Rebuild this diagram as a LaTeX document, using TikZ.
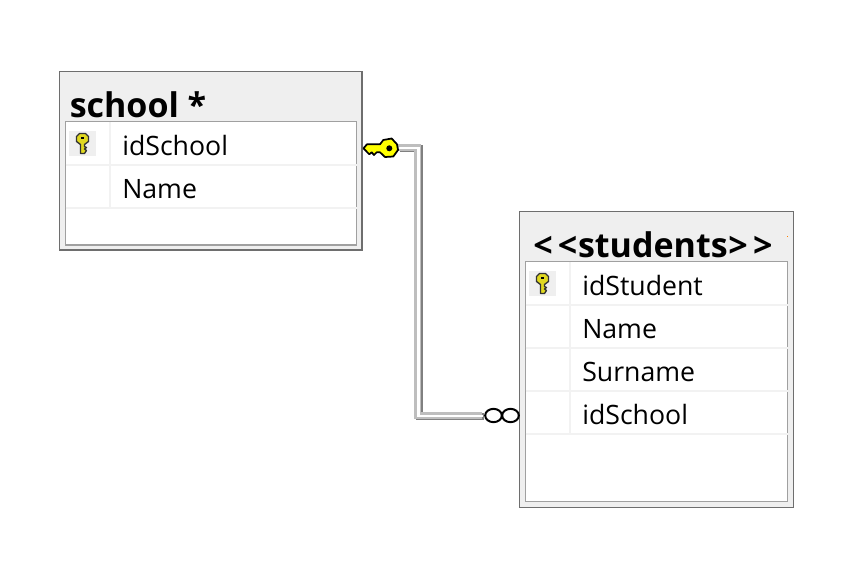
\documentclass[tikz,border=0pt]{standalone}
\usepackage{fontspec}
\setmainfont{Open Sans}
\usepackage{xcolor}
\usetikzlibrary{shapes.geometric}
\definecolor{tableedge}{HTML}{6E6E6E}
\definecolor{tablefill}{HTML}{EFEFEF}
\definecolor{gridedge}{HTML}{A0A0A0}
\definecolor{rowline}{HTML}{F2F2F2}
\definecolor{keyyellow}{HTML}{FFFF00}
\definecolor{keyicon}{HTML}{E0D820}
\definecolor{linkdark}{HTML}{808080}
\definecolor{linklight}{HTML}{BEBEBE}

\tikzset{
  pics/rowkey/.style={code={
    \fill[tablefill] (-13.5,-12.5) rectangle (13.5,12.5);
    \draw[black!80, fill=keyicon, line width=1pt, line join=round]
      (-2,1) -- (-6,-2) -- (-6,-7) -- (-3,-10) -- (3,-10) -- (6,-7) -- (6,-2) -- (2,1)
      -- (2,3) -- (4,4) -- (2,5.5) -- (4,7) -- (2,10) -- (-2,10) -- cycle;
    \fill[black] (-1.2,-6.5) rectangle (1.2,-4.5);
  }}
}

\begin{document}
\begin{tikzpicture}[x=0.75pt, y=-0.75pt,
      outerbox/.style={draw=tableedge, fill=tablefill, line width=0.9pt, anchor=north west, inner sep=0pt, outer sep=0pt},
      innerbox/.style={draw=gridedge, fill=white, line width=1pt, anchor=north west, inner sep=0pt, outer sep=0pt},
      rowrule/.style={draw=rowline, line width=0.8pt},
      title/.style={anchor=base west, inner sep=0pt, font=\fontsize{25.5}{25.5}\selectfont\bfseries},
      field/.style={anchor=base west, inner sep=0pt, font=\fontsize{20}{20}\selectfont},
      loop/.style={draw=black, fill=white, ellipse, line width=1.5pt, inner sep=0pt,
                   minimum width=12.5pt, minimum height=10pt},
      linkband/.style={line width=5.2pt, line join=miter}
    ]
    \useasboundingbox (0,0) rectangle (858,572);
    \fill[white] (0,0) rectangle (858,572);

    % school table
    \node[outerbox, minimum width=226.7pt, minimum height=133.7pt] (school) at (59.7,71.7) {};
    \node[innerbox, minimum width=218.25pt, minimum height=92.5pt] (schoolgrid) at (65.7,121.7) {};
    \node[title] (schooltitle) at (69.5,117) {school *};
    \foreach \y in {165,208}
      \draw[rowrule] (schoolgrid.west |- 0,\y) -- (schoolgrid.east |- 0,\y);
    \draw[rowrule] (110,122) -- (110,208);
    \pic at (82.5,143.5) {rowkey};
    \node[field] (schoolid) at (122,155) {idSchool};
    \node[field] (schoolname) at (122,198) {Name};

    % students table
    \node[outerbox, minimum width=205.2pt, minimum height=221.85pt] (students) at (519.7,211.5) {};
    \node[innerbox, minimum width=196.35pt, minimum height=179.85pt] (studentsgrid) at (525.7,261.7) {};
    \node[title] (studentstitle) at (533,257) {<\kern4pt<\kern0.5pt students\kern0.5pt>\kern4pt>};
    \foreach \y in {305,348,391,434}
      \draw[rowrule] (studentsgrid.west |- 0,\y) -- (studentsgrid.east |- 0,\y);
    \draw[rowrule] (570,262) -- (570,434);
    \pic at (542.5,283.5) {rowkey};
    \node[field] (studentid) at (582,295) {idStudent};
    \node[field] (studentname) at (582,338) {Name};
    \node[field] (studentsurname) at (582,381) {Surname};
    \node[field] (studentschool) at (582,424) {idSchool};
    \fill[orange] (786.5,235.5) rectangle (787.5,237);

    % relationship line
    \coordinate (keyend) at (399,148);
    \coordinate (bend) at (418.5,416);
    \node[loop] (loopright) at (510.5,415.5) {};
    \node[loop] (loopleft) at (493.5,415.5) {};
    \coordinate (loopend) at (483,416);
    \draw[linkband, linkdark, transform canvas={xshift=0.4pt, yshift=-0.4pt}] (keyend) -| (bend) |- (loopend);
    \draw[linkband, linklight, transform canvas={xshift=-0.6pt, yshift=0.6pt}] (keyend) -| (bend) |- (loopend);
    \draw[white, line width=1.6pt, line join=miter] (keyend) -| (bend) |- (loopend);

    % key end
    \draw[black, fill=keyyellow, line width=1.3pt, line join=round]
      (363.5,148.3) -- (367,144.3) -- (380,144.3) -- (383.3,140) -- (391.7,138.5) -- (397,144.3)
      -- (398,150) -- (393.3,156.5) -- (385,157) -- (380,152.3) -- (376.7,152.3) -- (374,155)
      -- (371.7,152.3) -- (369.3,154.3) -- (367.3,152.3) -- cycle;
    \fill[black] (389.3,148.3) circle [radius=3];
  \end{tikzpicture}
\end{document}
